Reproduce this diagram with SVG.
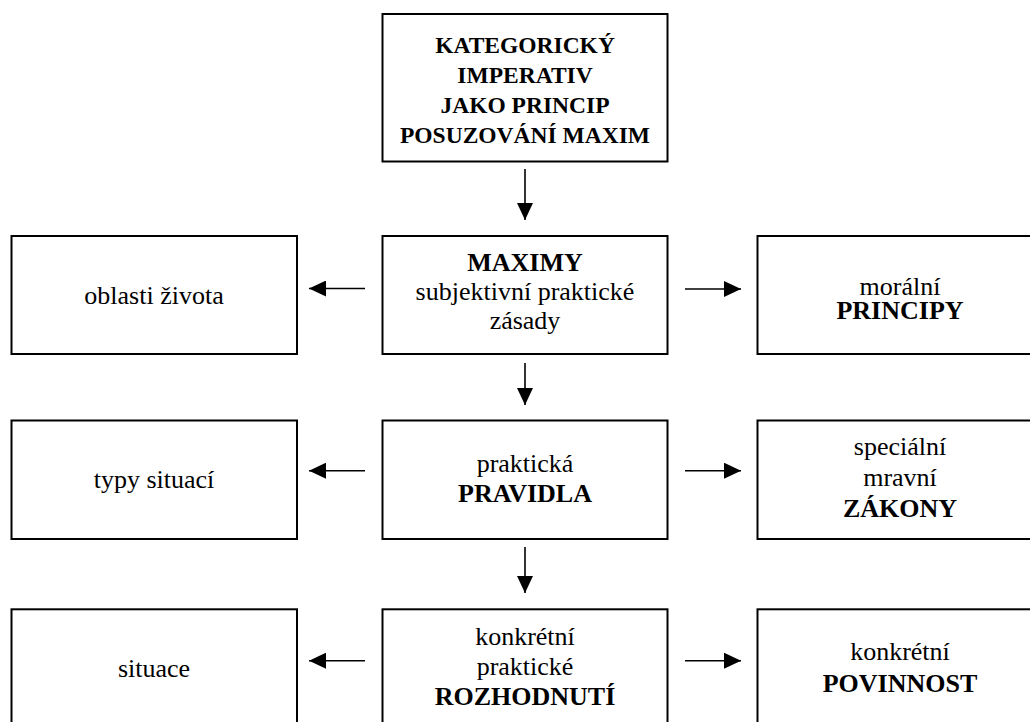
<svg xmlns="http://www.w3.org/2000/svg" width="1030" height="722" viewBox="0 0 1030 722">
<style>
.box{fill:#fff;stroke:#000;stroke-width:2}
.t{font-family:"Liberation Serif","Times New Roman",serif;font-size:26px;fill:#000;text-anchor:middle}
.h{font-size:23.5px}
.b{font-weight:bold}
.c{stroke:#000;stroke-width:1.6;fill:none;marker-end:url(#ah)}
</style>
<defs>
<marker id="ah" markerUnits="userSpaceOnUse" markerWidth="18" markerHeight="16" refX="17" refY="8" orient="auto">
<path d="M0,0 L17,8 L0,16 Z" fill="#000"/>
</marker>
</defs>
<rect width="1030" height="722" fill="#fff"/>
<g id="connectors">
<line class="c" x1="525" y1="169" x2="525" y2="220"/>
<line class="c" x1="525" y1="363" x2="525" y2="405"/>
<line class="c" x1="525" y1="547" x2="525" y2="593"/>
<line class="c" x1="365" y1="288.5" x2="309" y2="288.5"/>
<line class="c" x1="685" y1="289" x2="741" y2="289"/>
<line class="c" x1="365" y1="470.7" x2="309" y2="470.7"/>
<line class="c" x1="685" y1="470.7" x2="741" y2="470.7"/>
<line class="c" x1="365" y1="660.7" x2="309" y2="660.7"/>
<line class="c" x1="685" y1="660.7" x2="741" y2="660.7"/>
</g>
<g id="imperativ">
<rect class="box" x="382.5" y="14" width="285" height="147.5"/>
<text class="t h b" x="525" y="53.3">KATEGORICKÝ</text>
<text class="t h b" x="525" y="83.3">IMPERATIV</text>
<text class="t h b" x="525" y="113.3">JAKO PRINCIP</text>
<text class="t h b" x="525" y="143.3">POSUZOVÁNÍ MAXIM</text>
</g>
<g id="oblasti">
<rect class="box" x="11.5" y="236" width="285.5" height="118"/>
<text class="t" x="154" y="304">oblasti života</text>
</g>
<g id="maximy">
<rect class="box" x="382.5" y="236" width="285" height="118"/>
<text class="t b" x="525" y="271">MAXIMY</text>
<text class="t" x="525" y="300">subjektivní praktické</text>
<text class="t" x="525" y="329">zásady</text>
</g>
<g id="principy">
<rect class="box" x="757.5" y="236" width="285" height="118"/>
<text class="t" x="900" y="295">morální</text>
<text class="t b" x="900" y="319.3">PRINCIPY</text>
</g>
<g id="typy">
<rect class="box" x="11.5" y="420.5" width="285.5" height="118.5"/>
<text class="t" x="154" y="488.3">typy situací</text>
</g>
<g id="pravidla">
<rect class="box" x="382.5" y="420.5" width="285" height="118.5"/>
<text class="t" x="525" y="471.7">praktická</text>
<text class="t b" x="525" y="501.7">PRAVIDLA</text>
</g>
<g id="zakony">
<rect class="box" x="757.5" y="420.5" width="285" height="118.5"/>
<text class="t" x="900" y="455">speciální</text>
<text class="t" x="900" y="486">mravní</text>
<text class="t b" x="900" y="517.3">ZÁKONY</text>
</g>
<g id="situace">
<rect class="box" x="11.5" y="609.3" width="285.5" height="120"/>
<text class="t" x="154" y="676.7">situace</text>
</g>
<g id="rozhodnuti">
<rect class="box" x="382.5" y="609.3" width="285" height="120"/>
<text class="t" x="525" y="645">konkrétní</text>
<text class="t" x="525" y="675">praktické</text>
<text class="t b" x="525" y="705">ROZHODNUTÍ</text>
</g>
<g id="povinnost">
<rect class="box" x="757.5" y="609.3" width="285" height="120"/>
<text class="t" x="900" y="660">konkrétní</text>
<text class="t b" x="900" y="691.7">POVINNOST</text>
</g>
</svg>
